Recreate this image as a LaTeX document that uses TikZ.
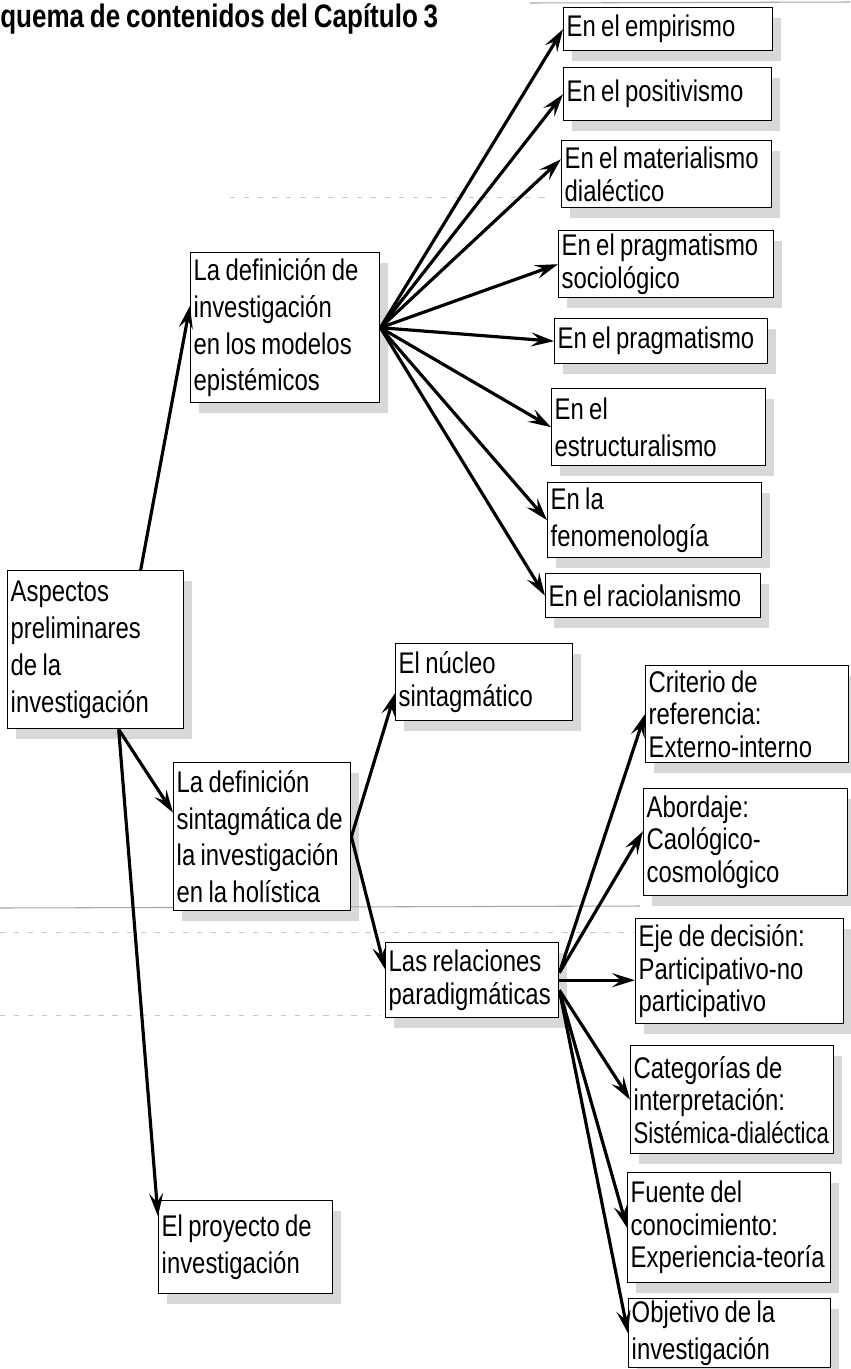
\documentclass[tikz,border=0pt]{standalone}
\usepackage{fontspec}
\setmainfont[FakeStretch=0.8,WordSpace=0.8]{Liberation Sans}
\newfontfamily\narrowfont[FakeStretch=0.74]{Liberation Sans}
\usetikzlibrary{arrows.meta,shadows}
\hyphenpenalty=10000
\exhyphenpenalty=10000
\begin{document}
\begin{tikzpicture}[x=0.02cm,y=-0.02cm,
  box/.style={draw,line width=0.8pt,fill=white,anchor=north west,align=flush left,inner xsep=0.06cm,inner ysep=0.02cm,
    font=\fontsize{17}{18.5}\selectfont,drop shadow={shadow xshift=5pt,shadow yshift=-6pt,fill=gray!60}},
  tall/.style={font=\fontsize{17}{21}\selectfont},
  arr/.style={-{Stealth[length=13pt,width=8pt,inset=5pt]},line width=1.8pt},
  scan/.style={gray!70,line width=0.6pt},
  scandot/.style={gray!45,line width=0.5pt,dash pattern=on 3pt off 5pt}]
\useasboundingbox (0,0) rectangle (850,1369);
\draw[scan] (530,3) -- (850,2);
\draw[scan] (0,908) -- (640,906);
\draw[scandot] (230,197) -- (550,197);
\draw[scandot] (0,932) -- (640,932);
\draw[scandot] (0,1015) -- (380,1015);
\node[anchor=base west,inner sep=0,font=\fontsize{18.5}{20}\selectfont\bfseries] (tit) at (0,28) {quema de contenidos del Capítulo 3};
\node[box,text width=4.06cm,minimum height=0.86cm] (emp) at (563,7) {En el empirismo};
\node[box,text width=4.04cm,minimum height=1.06cm] (pos) at (563,67) {En el positivismo};
\node[box,text width=4.08cm,minimum height=1.34cm] (mat) at (561,140) {En el materialismo\\dialéctico};
\node[box,text width=4.18cm,minimum height=1.34cm] (prs) at (558,230) {En el pragmatismo\\sociológico};
\node[box,text width=4.14cm,minimum height=0.90cm] (pra) at (554,318) {En el pragmatismo};
\node[box,tall,text width=4.16cm,minimum height=1.54cm] (est) at (551,388) {En el\\estructuralismo};
\node[box,tall,text width=4.16cm,minimum height=1.50cm] (fen) at (547,482) {En la\\fenomenología};
\node[box,text width=4.18cm,minimum height=0.88cm] (rac) at (545,573) {En el raciolanismo};
\node[box,tall,text width=3.66cm,minimum height=3.00cm] (mod) at (190,252) {La definición de\\investigación\\en los modelos\\epistémicos};
\node[box,tall,text width=3.40cm,minimum height=3.16cm] (asp) at (7,570) {Aspectos\\preliminares\\de la\\investigación};
\node[box,tall,text width=3.42cm,minimum height=2.96cm] (sint) at (173,762) {La definición\\sintagmática de\\la investigación\\en la holística};
\node[box,text width=3.42cm,minimum height=1.54cm] (nuc) at (395,643) {El núcleo\\sintagmático};
\node[box,text width=3.34cm,minimum height=1.50cm] (rel) at (385,942) {Las relaciones\\paradigmáticas};
\node[box,tall,text width=3.36cm,minimum height=1.86cm] (proy) at (158,1200) {El proyecto de\\investigación};
\node[box,text width=3.94cm,minimum height=1.94cm] (cri) at (645,665) {Criterio de\\referencia:\\Externo-interno};
\node[box,text width=3.96cm,minimum height=2.14cm] (abo) at (643,788) {Abordaje:\\Caológico-\\cosmológico};
\node[box,text width=4.04cm,minimum height=2.10cm] (eje) at (635,918) {Eje de decisión:\\Participativo-no\\participativo};
\node[box,text width=3.94cm,minimum height=2.16cm] (cat) at (630,1045) {Categorías de\\interpretación:\\{\narrowfont Sistémica-dialéctica}};
\node[box,text width=3.94cm,minimum height=2.20cm] (fue) at (627,1172) {Fuente del\\conocimiento:\\Experiencia-teoría};
\node[box,tall,text width=3.92cm,minimum height=1.38cm] (obj) at (628,1298) {Objetivo de la\\investigación};
\draw[arr] ([xshift=0.9cm]asp.north) -- ([yshift=0.44cm]mod.west);
\draw[arr] ([xshift=0.46cm]asp.south) -- ([yshift=0.48cm]sint.west);
\draw[arr] ([xshift=0.46cm]asp.south) -- ([yshift=0.62cm]proy.west);
\foreach \t in {emp,pos,prs,pra,est,fen,rac}
  \draw[arr] (mod.east) -- (\t.west);
\draw[arr] (mod.east) -- ([yshift=0.3cm]mat.west);
\draw[arr] (sint.east) -- ([yshift=-0.22cm]nuc.west);
\draw[arr] (sint.east) -- ([yshift=0.22cm]rel.west);
\draw[arr] ([yshift=0.15cm]rel.east) -- (cri.west);
\draw[arr] ([yshift=0.15cm]rel.east) -- ([yshift=0.22cm]abo.west);
\draw[arr] (rel.east) -- (rel.east -| eje.west);
\foreach \t in {cat,fue,obj}
  \draw[arr] ([yshift=-0.2cm]rel.east) -- (\t.west);
\end{tikzpicture}
\end{document}
